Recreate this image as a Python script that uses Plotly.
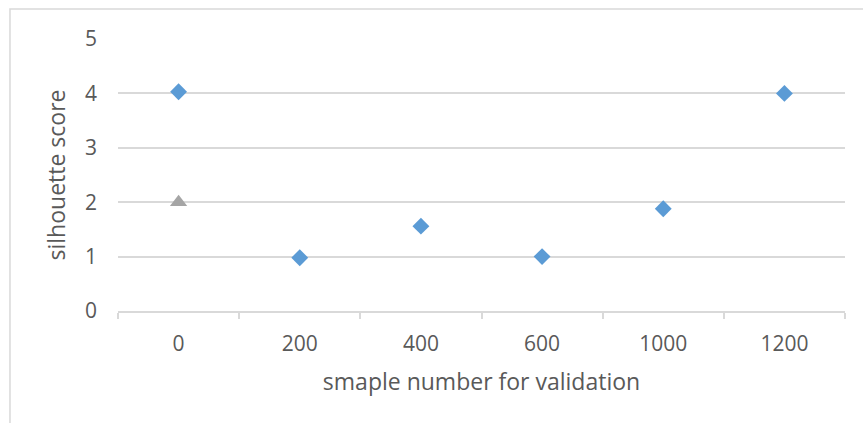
import plotly.graph_objects as go

# Validation sample sizes (category labels) and silhouette scores
sample_sizes = ["0", "200", "400", "600", "1000", "1200"]
scores = [4.03, 0.98, 1.56, 1.00, 1.88, 4.00]

# Reference point shown as a separate series
ref_sizes = ["0"]
ref_scores = [2.0]

y_ticks = [0, 1, 2, 3, 4, 5]

FONT = "Open Sans"
TEXT = "#595959"
GRID = "#d9d9d9"

fig = go.Figure()
fig.add_trace(go.Scatter(
    x=sample_sizes, y=scores, mode="markers",
    marker=dict(symbol="diamond", size=13, color="#5B9BD5"),
    showlegend=False,
))
fig.add_trace(go.Scatter(
    x=ref_sizes, y=ref_scores, mode="markers",
    marker=dict(symbol="triangle-up", size=15, color="#A5A5A5"),
    showlegend=False,
))

fig.update_layout(
    width=863, height=423,
    margin=dict(l=118, r=18, t=39, b=112),
    paper_bgcolor="white", plot_bgcolor="white",
    font=dict(family=FONT, color=TEXT, size=21),
    xaxis=dict(
        type="category", categoryorder="array", categoryarray=sample_sizes,
        range=[-0.5, len(sample_sizes) - 0.5],
        showgrid=False, zeroline=False,
        showline=True, linecolor=GRID, linewidth=1.5,
        ticks="outside", tickson="boundaries", ticklen=6, tickcolor=GRID,
        tickwidth=1.5, ticklabelstandoff=13,
        tickfont=dict(size=21, color=TEXT),
        title=dict(text="smaple number for validation", standoff=18,
                   font=dict(size=23, color=TEXT)),
    ),
    yaxis=dict(
        range=[0, 5], tickvals=y_ticks,
        showgrid=True, gridcolor=GRID, gridwidth=1.5,
        zeroline=False, showline=False, ticks="",
        ticklabelstandoff=20,
        tickfont=dict(size=21, color=TEXT),
        title=dict(text="silhouette score", standoff=12,
                   font=dict(size=23, color=TEXT)),
    ),
    shapes=[dict(
        type="rect", xref="paper", yref="paper",
        x0=-0.1486, x1=1.5, y0=-1.0, y1=1.1103,
        line=dict(color=GRID, width=1.5), fillcolor="rgba(0,0,0,0)",
        layer="below",
    )],
)

fig.write_html("out.html")
